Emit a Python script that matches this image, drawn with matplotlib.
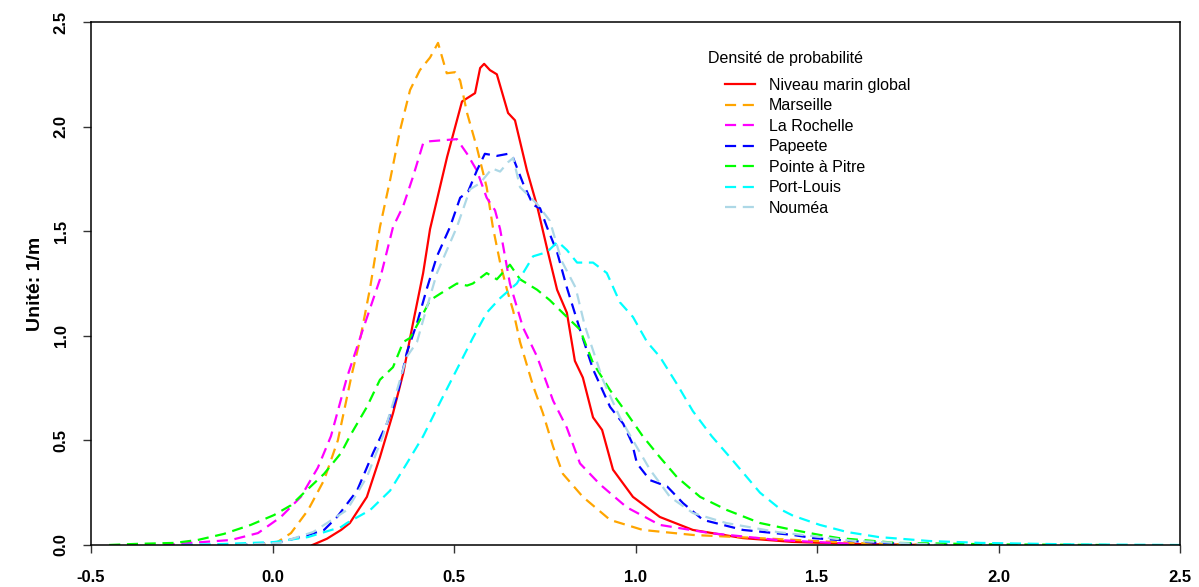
import numpy as np
import matplotlib.pyplot as plt

plt.rcParams['font.family'] = ['Liberation Sans', 'DejaVu Sans']

# density curves (x in m, y in 1/m)
global_x = [0.11, 0.15, 0.189, 0.213, 0.26, 0.296, 0.332, 0.36, 0.387, 0.415, 0.434, 0.481, 0.522,
            0.558, 0.572, 0.583, 0.599, 0.618, 0.649, 0.668, 0.701, 0.729, 0.756, 0.784, 0.811, 0.833,
            0.855, 0.883, 0.908, 0.938, 0.993, 1.067, 1.158, 1.296, 1.43, 1.6, 1.8]
global_y = [0.0, 0.03, 0.072, 0.105, 0.23, 0.42, 0.63, 0.82, 1.06, 1.30, 1.51, 1.855, 2.12,
            2.16, 2.28, 2.30, 2.27, 2.25, 2.065, 2.03, 1.79, 1.62, 1.42, 1.22, 1.11, 0.88,
            0.80, 0.61, 0.55, 0.36, 0.23, 0.134, 0.072, 0.033, 0.015, 0.005, 0.0]

marseille_x = [-0.05, 0.01, 0.051, 0.098, 0.142, 0.18, 0.219, 0.241, 0.269, 0.296, 0.324, 0.351, 0.379,
               0.406, 0.434, 0.456, 0.48, 0.503, 0.517, 0.536, 0.563, 0.59, 0.607, 0.627, 0.646, 0.663,
               0.682, 0.718, 0.745, 0.773, 0.80, 0.855, 0.93, 1.02, 1.158, 1.34, 1.6, 1.8]
marseille_y = [0.0, 0.01, 0.057, 0.167, 0.31, 0.50, 0.82, 0.98, 1.23, 1.52, 1.745, 1.98, 2.175,
               2.27, 2.33, 2.40, 2.255, 2.26, 2.22, 2.065, 1.90, 1.71, 1.52, 1.35, 1.22, 1.12,
               0.97, 0.76, 0.63, 0.47, 0.34, 0.23, 0.12, 0.072, 0.048, 0.033, 0.01, 0.0]

rochelle_x = [-0.3, -0.225, -0.114, -0.04, 0.023, 0.078, 0.125, 0.161, 0.205, 0.249, 0.296, 0.332, 0.36,
              0.387, 0.415, 0.434, 0.508, 0.536, 0.563, 0.59, 0.613, 0.627, 0.654, 0.69, 0.729, 0.773,
              0.811, 0.847, 0.902, 0.976, 1.067, 1.205, 1.39, 1.6]
rochelle_y = [0.0, 0.01, 0.024, 0.057, 0.134, 0.23, 0.37, 0.52, 0.80, 1.03, 1.27, 1.52, 1.62,
              1.76, 1.92, 1.93, 1.94, 1.87, 1.79, 1.66, 1.60, 1.51, 1.25, 1.04, 0.90, 0.69,
              0.56, 0.39, 0.29, 0.18, 0.096, 0.057, 0.024, 0.005]

papeete_x = [-0.1, 0.015, 0.098, 0.142, 0.178, 0.233, 0.277, 0.315, 0.343, 0.37, 0.398, 0.426, 0.453,
             0.489, 0.517, 0.539, 0.563, 0.585, 0.618, 0.649, 0.663, 0.69, 0.718, 0.737, 0.756, 0.784,
             0.811, 0.847, 0.883, 0.93, 0.966, 0.99, 1.004, 1.04, 1.087, 1.131, 1.186, 1.296, 1.434,
             1.49, 1.67, 1.9]
papeete_y = [0.0, 0.01, 0.048, 0.072, 0.134, 0.26, 0.44, 0.58, 0.71, 0.92, 1.06, 1.23, 1.38,
             1.52, 1.66, 1.69, 1.79, 1.87, 1.86, 1.87, 1.85, 1.73, 1.625, 1.61, 1.52, 1.40,
             1.23, 1.03, 0.84, 0.66, 0.58, 0.49, 0.39, 0.31, 0.28, 0.20, 0.12, 0.072, 0.048,
             0.033, 0.01, 0.0]

pitre_x = [-0.45, -0.38, -0.27, -0.206, -0.134, -0.06, 0.004, 0.051, 0.087, 0.142, 0.189, 0.213, 0.26,
           0.296, 0.332, 0.36, 0.379, 0.406, 0.434, 0.461, 0.508, 0.536, 0.552, 0.59, 0.618, 0.654,
           0.682, 0.729, 0.764, 0.811, 0.847, 0.883, 0.93, 0.976, 1.02, 1.067, 1.114, 1.178, 1.252,
           1.343, 1.434, 1.508, 1.56, 1.72, 2.0, 2.3]
pitre_y = [0.0, 0.005, 0.01, 0.024, 0.053, 0.096, 0.143, 0.19, 0.25, 0.34, 0.44, 0.52, 0.66,
           0.79, 0.85, 0.97, 0.99, 1.075, 1.17, 1.20, 1.25, 1.24, 1.25, 1.30, 1.27, 1.34,
           1.27, 1.22, 1.17, 1.09, 1.03, 0.87, 0.74, 0.63, 0.52, 0.42, 0.325, 0.23, 0.167,
           0.105, 0.072, 0.048, 0.033, 0.01, 0.003, 0.0]

louis_x = [-0.25, -0.134, 0.004, 0.098, 0.189, 0.205, 0.269, 0.324, 0.37, 0.415, 0.461, 0.508, 0.552,
           0.59, 0.627, 0.673, 0.718, 0.756, 0.786, 0.811, 0.839, 0.883, 0.921, 0.957, 0.993, 1.032,
           1.067, 1.114, 1.158, 1.21, 1.27, 1.343, 1.40, 1.434, 1.508, 1.583, 1.67, 1.81, 1.95,
           2.2, 2.5]
louis_y = [0.0, 0.005, 0.014, 0.038, 0.086, 0.105, 0.167, 0.26, 0.39, 0.52, 0.68, 0.84, 0.99,
           1.11, 1.18, 1.25, 1.38, 1.40, 1.45, 1.41, 1.35, 1.35, 1.30, 1.16, 1.09, 0.97,
           0.90, 0.77, 0.64, 0.52, 0.40, 0.25, 0.17, 0.14, 0.096, 0.062, 0.038, 0.019, 0.01,
           0.003, 0.0]

noumea_x = [-0.1, 0.02, 0.112, 0.205, 0.26, 0.304, 0.343, 0.37, 0.398, 0.415, 0.453, 0.508, 0.544,
            0.572, 0.605, 0.627, 0.649, 0.663, 0.682, 0.70, 0.729, 0.764, 0.796, 0.835, 0.86, 0.91,
            0.957, 0.993, 1.04, 1.095, 1.158, 1.25, 1.39, 1.6, 1.85]
noumea_y = [0.0, 0.01, 0.062, 0.167, 0.325, 0.52, 0.74, 0.90, 0.97, 1.075, 1.30, 1.52, 1.70,
            1.73, 1.80, 1.785, 1.83, 1.85, 1.71, 1.68, 1.63, 1.55, 1.36, 1.23, 1.05, 0.79,
            0.61, 0.50, 0.36, 0.23, 0.153, 0.105, 0.062, 0.02, 0.0]

labels = ['Niveau marin global', 'Marseille', 'La Rochelle', 'Papeete',
          'Pointe à Pitre', 'Port-Louis', 'Nouméa']
colors = ['#FF0000', '#FFA500', '#FF00FF', '#0000FF', '#00FF00', '#00FFFF', '#ADD8E6']
series = [(global_x, global_y), (marseille_x, marseille_y), (rochelle_x, rochelle_y),
          (papeete_x, papeete_y), (pitre_x, pitre_y), (louis_x, louis_y), (noumea_x, noumea_y)]

W, H = 1199, 587
fig = plt.figure(figsize=(W / 100, H / 100), dpi=100)
ax = fig.add_axes([91 / W, 42 / H, (1180 - 91) / W, (545 - 22) / H])

for i, ((xs, ys), lab, col) in enumerate(zip(series, labels, colors)):
    if i == 0:
        ax.plot(xs, ys, color=col, lw=1.6, label=lab)
    else:
        ax.plot(xs, ys, color=col, lw=1.6, label=lab, dashes=(5, 3))

ax.set_xlim(-0.5, 2.5)
ax.set_ylim(0, 2.5)
ticks = np.arange(-0.5, 2.51, 0.5)
ax.set_xticks(ticks)
ax.set_xticklabels(['%.1f' % t for t in ticks])
yticks = np.arange(0, 2.51, 0.5)
ax.set_yticks(yticks)
ax.set_yticklabels(['%.1f' % t for t in yticks], rotation=90, va='center')
ax.tick_params(length=6, width=1, labelsize=12, color='#333333')
ax.tick_params(axis='x', pad=12)
ax.tick_params(axis='y', pad=10)
for lab in ax.get_xticklabels() + ax.get_yticklabels():
    lab.set_fontweight('bold')
for sp in ax.spines.values():
    sp.set_linewidth(1.1)

ax.set_ylabel('Unité: 1/m', fontsize=14, fontweight='bold')
ax.yaxis.set_label_coords((44 - 91) / (1180 - 91), 0.5)

leg = ax.legend(loc='upper left', bbox_to_anchor=(725 / W, 1 - 78 / H),
                bbox_transform=fig.transFigure, frameon=False, fontsize=11.5,
                handlelength=1.85, handletextpad=0.9, labelspacing=0.34,
                borderpad=0, borderaxespad=0)
fig.text(708 / W, 1 - 58 / H, 'Densité de probabilité', fontsize=11.5, ha='left', va='center')

fig.savefig('out.png', dpi=100)
